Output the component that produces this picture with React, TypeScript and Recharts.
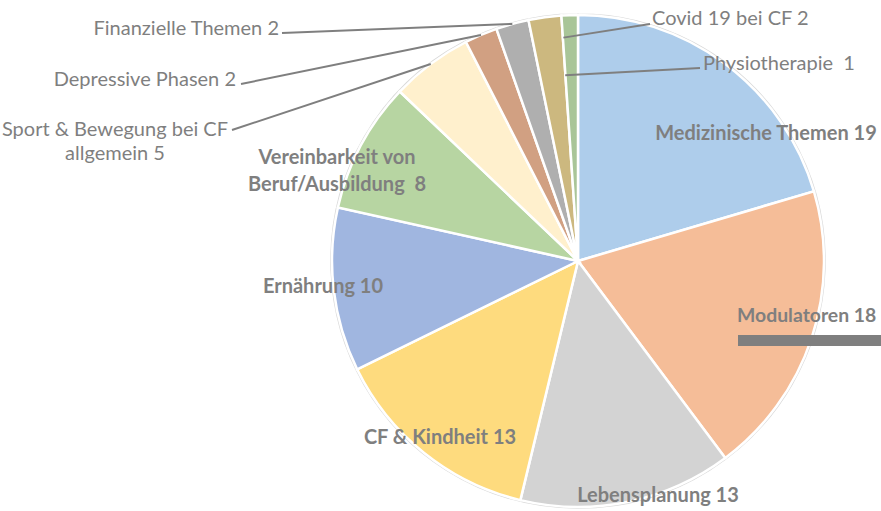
import React from "react";
import { PieChart, Pie, Cell } from "recharts";

const categories = [
  "Medizinische Themen",
  "Modulatoren",
  "Lebensplanung",
  "CF & Kindheit",
  "Ernährung",
  "Vereinbarkeit von Beruf/Ausbildung",
  "Sport & Bewegung bei CF allgemein",
  "Depressive Phasen",
  "Finanzielle Themen",
  "Covid 19 bei CF",
  "Physiotherapie",
];
const counts = [19, 18, 13, 13, 10, 8, 5, 2, 2, 2, 1];
const labelLines: string[][] = [
  ["Medizinische Themen 19"],
  ["Modulatoren 18"],
  ["Lebensplanung 13"],
  ["CF & Kindheit 13"],
  ["Ernährung 10"],
  ["Vereinbarkeit von", "Beruf/Ausbildung  8"],
  ["Sport & Bewegung bei CF", "allgemein 5"],
  ["Depressive Phasen 2"],
  ["Finanzielle Themen 2"],
  ["Covid 19 bei CF 2"],
  ["Physiotherapie  1"],
];

const COLORS = [
  "#AECDEB",
  "#F5BD98",
  "#D3D3D3",
  "#FEDB7E",
  "#A0B6E0",
  "#B7D5A2",
  "#FFF0CD",
  "#D1A082",
  "#AFAFAF",
  "#CCB87F",
  "#A9C598",
];

const data = categories.map((name, i) => ({ name, value: counts[i] }));

// label layout (offsets relative to pie centre)
type Layout = {
  dx: number;
  dy: number;
  anchor: "start" | "middle" | "end";
  bold: boolean;
  size?: number;
  lineGap?: number;
  leader?: { sx: number; sy: number; r: number; da: number };
  bar?: boolean;
};
const layout: Layout[] = [
  { dx: 188, dy: -129, anchor: "middle", bold: true },
  { dx: 159, dy: 53, anchor: "start", bold: true, size: 19.4, bar: true },
  { dx: 80, dy: 233, anchor: "middle", bold: true },
  { dx: -138, dy: 175, anchor: "middle", bold: true },
  { dx: -255, dy: 24, anchor: "middle", bold: true },
  { dx: -241, dy: -105, anchor: "middle", bold: true, lineGap: 27 },
  { dx: -463, dy: -133, anchor: "middle", bold: false, lineGap: 24, leader: { sx: -346, sy: -131, r: 1.0, da: 0 } },
  { dx: -342, dy: -183, anchor: "end", bold: false, leader: { sx: -337, sy: -177, r: 1.0, da: 0 } },
  { dx: -299, dy: -234, anchor: "end", bold: false, leader: { sx: -296, sy: -228, r: 1.0, da: 0 } },
  { dx: 74, dy: -244, anchor: "start", bold: false, leader: { sx: 72, sy: -237, r: 0.91, da: -4 } },
  { dx: 125, dy: -199, anchor: "start", bold: false, leader: { sx: 122, sy: -193, r: 0.757, da: 2 } },
];

const RAD = Math.PI / 180;
const TEXT = "#7F7F7F";

const renderLabel = (props: any) => {
  const { cx, cy, midAngle, outerRadius, index } = props;
  const L = layout[index];
  const lines = labelLines[index];
  const gap = L.lineGap ?? 0;
  const x = cx + L.dx;
  const y = cy + L.dy;
  let leader = null;
  if (L.leader) {
    const a = (midAngle + L.leader.da) * RAD;
    const ex = cx + outerRadius * L.leader.r * Math.cos(-a);
    const ey = cy + outerRadius * L.leader.r * Math.sin(-a);
    leader = (
      <line
        x1={cx + L.leader.sx}
        y1={cy + L.leader.sy}
        x2={ex}
        y2={ey}
        stroke="#7F7F7F"
        strokeWidth={2}
      />
    );
  }
  return (
    <g key={`lbl-${index}`}>
      {leader}
      {L.bar && (
        <rect x={x + 1} y={y + 21} width={160} height={11} fill="#7F7F7F" />
      )}
      <text
        x={x}
        y={y}
        textAnchor={L.anchor}
        dominantBaseline="central"
        fill={TEXT}
        fontFamily="Lato, 'Open Sans', sans-serif"
        fontWeight={L.bold ? 700 : 400}
        fontSize={L.size ?? 20}
        style={{ whiteSpace: "pre" }}
      >
        {lines.map((ln, k) => (
          <tspan key={k} x={x} dy={k === 0 ? 0 : gap}>
            {ln}
          </tspan>
        ))}
      </text>
    </g>
  );
};

export default function App() {
  return (
    <div style={{ position: "absolute", left: 0, top: 0, width: 881, height: 511, background: "#fff", overflow: "hidden" }}>
      <PieChart width={881} height={511} margin={{ top: 0, right: 0, bottom: 0, left: 0 }}>
        <Pie
          data={[{ name: "outline", value: 1 }]}
          dataKey="value"
          cx={578}
          cy={261}
          outerRadius={247}
          startAngle={90}
          endAngle={-270}
          fill="#fff"
          stroke="#D9D9D9"
          strokeWidth={1.5}
          isAnimationActive={false}
        />
        <Pie
          data={data}
          dataKey="value"
          nameKey="name"
          cx={578}
          cy={261}
          outerRadius={246}
          startAngle={90}
          endAngle={-270}
          stroke="#FFFFFF"
          strokeWidth={2.5}
          label={renderLabel}
          labelLine={false}
          isAnimationActive={false}
        >
          {data.map((d, i) => (
            <Cell key={d.name} fill={COLORS[i]} />
          ))}
        </Pie>
      </PieChart>
    </div>
  );
}
